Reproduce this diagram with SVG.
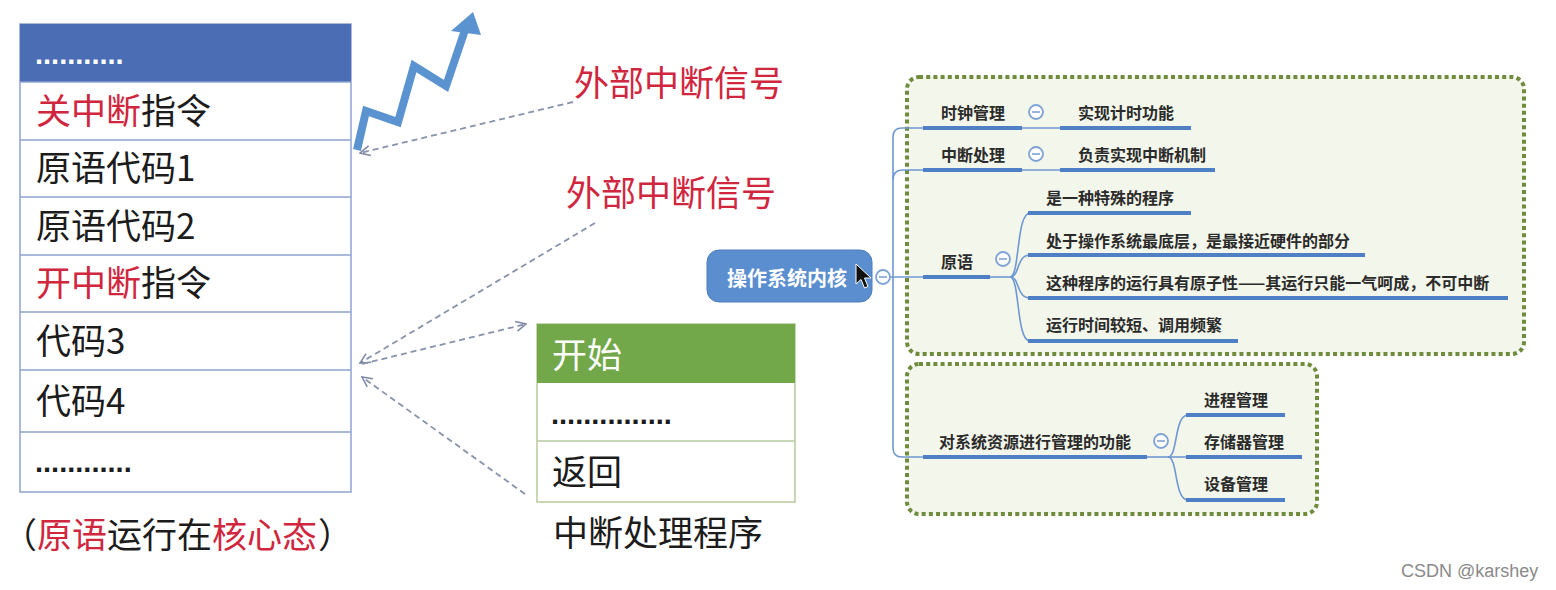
<svg xmlns="http://www.w3.org/2000/svg" width="1556" height="590" viewBox="0 0 1556 590">
<defs>
<style>
.cjk{font-family:'Noto Sans CJK SC','Noto Sans',sans-serif;}
.big{font-size:35px;fill:#1c1c1c;}
.red{fill:#d0263e;}
.dots{font-family:'Liberation Sans',sans-serif;font-weight:bold;font-size:29px;}
.tbl{fill:#ffffff;stroke:#8ea3d2;stroke-width:1.5;}
.sep{stroke:#8ea3d2;stroke-width:1.5;}
.gsep{stroke:#b6ca9c;stroke-width:1.5;}
.mm{font-family:'Noto Sans CJK SC','Noto Sans',sans-serif;font-size:16px;font-weight:bold;fill:#2b2b2b;}
.thin{fill:none;stroke:#6f98d2;stroke-width:1.6;}
.thick{fill:none;stroke:#4f80c6;stroke-width:4;}
.box{fill:#f3f6ea;stroke:#6f8c3c;stroke-width:4;stroke-dasharray:4 3.2;}
.col{fill:#ffffff;stroke:#7fa2d6;stroke-width:1.8;}
.dash{fill:none;stroke:#8792ab;stroke-width:1.8;stroke-dasharray:6 4;}
</style>
<marker id="chev" viewBox="0 0 12 12" refX="11" refY="6" markerWidth="12" markerHeight="12" markerUnits="userSpaceOnUse" orient="auto">
<path d="M1,1 L11,6 L1,11" fill="none" stroke="#7f8aa6" stroke-width="1.6"/>
</marker>
</defs>
<rect width="1556" height="590" fill="#ffffff"/>

<g id="primitive-table">
<rect class="tbl" x="20" y="24" width="331" height="468"/>
<rect x="20" y="24" width="331" height="58" fill="#4a6db4"/>
<line class="sep" x1="20" y1="82" x2="351" y2="82"/>
<line class="sep" x1="20" y1="140" x2="351" y2="140"/>
<line class="sep" x1="20" y1="197" x2="351" y2="197"/>
<line class="sep" x1="20" y1="255" x2="351" y2="255"/>
<line class="sep" x1="20" y1="312" x2="351" y2="312"/>
<line class="sep" x1="20" y1="370" x2="351" y2="370"/>
<line class="sep" x1="20" y1="432" x2="351" y2="432"/>
<text class="dots" x="35" y="64" fill="#ffffff">...........</text>
<text class="cjk big" x="36" y="124"><tspan class="red">关中断</tspan>指令</text>
<text class="cjk big" x="36" y="181">原语代码1</text>
<text class="cjk big" x="36" y="239">原语代码2</text>
<text class="cjk big" x="36" y="296"><tspan class="red">开中断</tspan>指令</text>
<text class="cjk big" x="36" y="354">代码3</text>
<text class="cjk big" x="36" y="414">代码4</text>
<text class="dots" x="35" y="472" fill="#1c1c1c">............</text>
<text class="cjk big" y="548"><tspan x="2">（</tspan><tspan x="37" class="red">原语</tspan><tspan>运行在</tspan><tspan class="red">核心态</tspan><tspan x="318">）</tspan></text>
</g>

<g id="zigzag-signal">
<polyline points="357,150 366,111 398,122 414,66 446,86 465,30" fill="none" stroke="#5b93d0" stroke-width="8" stroke-linejoin="miter"/>
<polygon points="473,12 481,35 451,31" fill="#5b93d0"/>
</g>

<g id="signal-label-1">
<text class="cjk red" x="574" y="96" font-size="35">外部中断信号</text>
</g>
<g id="signal-label-2">
<text class="cjk red" x="566" y="206" font-size="35">外部中断信号</text>
</g>

<g id="handler-table">
<rect x="537" y="324" width="258" height="178" fill="#ffffff" stroke="#b6ca9c" stroke-width="1.5"/>
<rect x="537" y="324" width="258" height="59" fill="#72a74a"/>
<line class="gsep" x1="537" y1="441" x2="795" y2="441"/>
<text class="cjk" x="552" y="368" font-size="35" fill="#ffffff">开始</text>
<text class="dots" x="551" y="424" fill="#1c1c1c">...............</text>
<text class="cjk big" x="552" y="485">返回</text>
<text class="cjk big" x="553" y="546">中断处理程序</text>
</g>

<g id="connectors">
<line class="dash" x1="573" y1="102" x2="360" y2="153" marker-end="url(#chev)" stroke="#999999"/>
<line class="dash" x1="595" y1="223" x2="360" y2="363" marker-end="url(#chev)"/>
<line class="dash" x1="362" y1="364" x2="526" y2="324" marker-end="url(#chev)"/>
<line class="dash" x1="525" y1="494" x2="362" y2="377" marker-end="url(#chev)"/>
</g>

<g id="mindmap-frame-1">
<rect class="box" x="907" y="77" width="617" height="277" rx="12"/>
</g>
<g id="mindmap-frame-2">
<rect class="box" x="907" y="364" width="410" height="150" rx="12"/>
</g>

<g id="mindmap-connectors">
<path class="thin" d="M890,277 L923,277"/>
<path class="thin" d="M893,277 L893,137 Q893,128 902,128 L923,128"/>
<path class="thin" d="M893,180 Q893,170 903,170 L923,170"/>
<path class="thin" d="M893,277 L893,448 Q893,457 902,457 L923,457"/>
<path class="thin" d="M1022,128 L1060,128"/>
<path class="thin" d="M1022,170 L1060,170"/>
<path class="thin" d="M990,277 L1010,277"/>
<path class="thin" d="M1010,277 C1020,277 1016,213 1030,213"/>
<path class="thin" d="M1010,277 C1020,277 1016,255 1030,255"/>
<path class="thin" d="M1010,277 C1020,277 1016,298 1030,298"/>
<path class="thin" d="M1010,277 C1020,277 1016,341 1030,341"/>
<path class="thin" d="M1147,457 L1168,457"/>
<path class="thin" d="M1168,457 C1178,457 1174,415 1188,415"/>
<path class="thin" d="M1168,457 L1188,457"/>
<path class="thin" d="M1168,457 C1178,457 1174,500 1188,500"/>
</g>

<g id="root-node">
<rect x="707" y="250" width="165" height="52" rx="12" fill="#5a8ecf" stroke="#4f7fc0" stroke-width="1"/>
<text class="cjk" x="727" y="286" font-size="20" font-weight="bold" fill="#ffffff">操作系统内核</text>
<circle class="col" cx="883" cy="277" r="7"/>
<line x1="879" y1="277" x2="887" y2="277" stroke="#7fa2d6" stroke-width="1.6"/>
<path d="M856,264 L856,284 L861,279.5 L864.5,288 L868,286.5 L864.5,278 L871,278 Z" fill="#111111" stroke="#ffffff" stroke-width="1"/>
</g>

<g id="node-clock">
<path class="thick" d="M923,128 L1022,128"/>
<text class="mm" x="941" y="119">时钟管理</text>
<circle class="col" cx="1036" cy="112" r="7"/>
<line x1="1032" y1="112" x2="1040" y2="112" stroke="#7fa2d6" stroke-width="1.6"/>
</g>
<g id="node-clock-func">
<path class="thick" d="M1060,128 L1191,128"/>
<text class="mm" x="1078" y="119">实现计时功能</text>
</g>
<g id="node-interrupt">
<path class="thick" d="M923,170 L1022,170"/>
<text class="mm" x="941" y="161">中断处理</text>
<circle class="col" cx="1036" cy="154" r="7"/>
<line x1="1032" y1="154" x2="1040" y2="154" stroke="#7fa2d6" stroke-width="1.6"/>
</g>
<g id="node-interrupt-func">
<path class="thick" d="M1060,170 L1215,170"/>
<text class="mm" x="1078" y="161">负责实现中断机制</text>
</g>
<g id="node-primitive">
<path class="thick" d="M923,277 L990,277"/>
<text class="mm" x="941" y="268">原语</text>
<circle class="col" cx="1003" cy="259" r="7"/>
<line x1="999" y1="259" x2="1007" y2="259" stroke="#7fa2d6" stroke-width="1.6"/>
</g>
<g id="node-p1">
<path class="thick" d="M1028,213 L1191,213"/>
<text class="mm" x="1046" y="204">是一种特殊的程序</text>
</g>
<g id="node-p2">
<path class="thick" d="M1028,255 L1365,255"/>
<text class="mm" x="1046" y="247">处于操作系统最底层，是最接近硬件的部分</text>
</g>
<g id="node-p3">
<path class="thick" d="M1028,298 L1508,298"/>
<text class="mm" x="1046" y="289">这种程序的运行具有原子性——其运行只能一气呵成，不可中断</text>
</g>
<g id="node-p4">
<path class="thick" d="M1028,341 L1238,341"/>
<text class="mm" x="1046" y="331">运行时间较短、调用频繁</text>
</g>
<g id="node-resource">
<path class="thick" d="M923,457 L1147,457"/>
<text class="mm" x="939" y="448">对系统资源进行管理的功能</text>
<circle class="col" cx="1161" cy="441" r="7"/>
<line x1="1157" y1="441" x2="1165" y2="441" stroke="#7fa2d6" stroke-width="1.6"/>
</g>
<g id="node-r1">
<path class="thick" d="M1186,415 L1285,415"/>
<text class="mm" x="1204" y="406">进程管理</text>
</g>
<g id="node-r2">
<path class="thick" d="M1186,457 L1302,457"/>
<text class="mm" x="1204" y="448">存储器管理</text>
</g>
<g id="node-r3">
<path class="thick" d="M1186,500 L1285,500"/>
<text class="mm" x="1204" y="490">设备管理</text>
</g>

<text x="1401" y="577" font-family="'Liberation Sans',sans-serif" font-size="18" fill="#8a8a8a">CSDN @karshey</text>
</svg>
